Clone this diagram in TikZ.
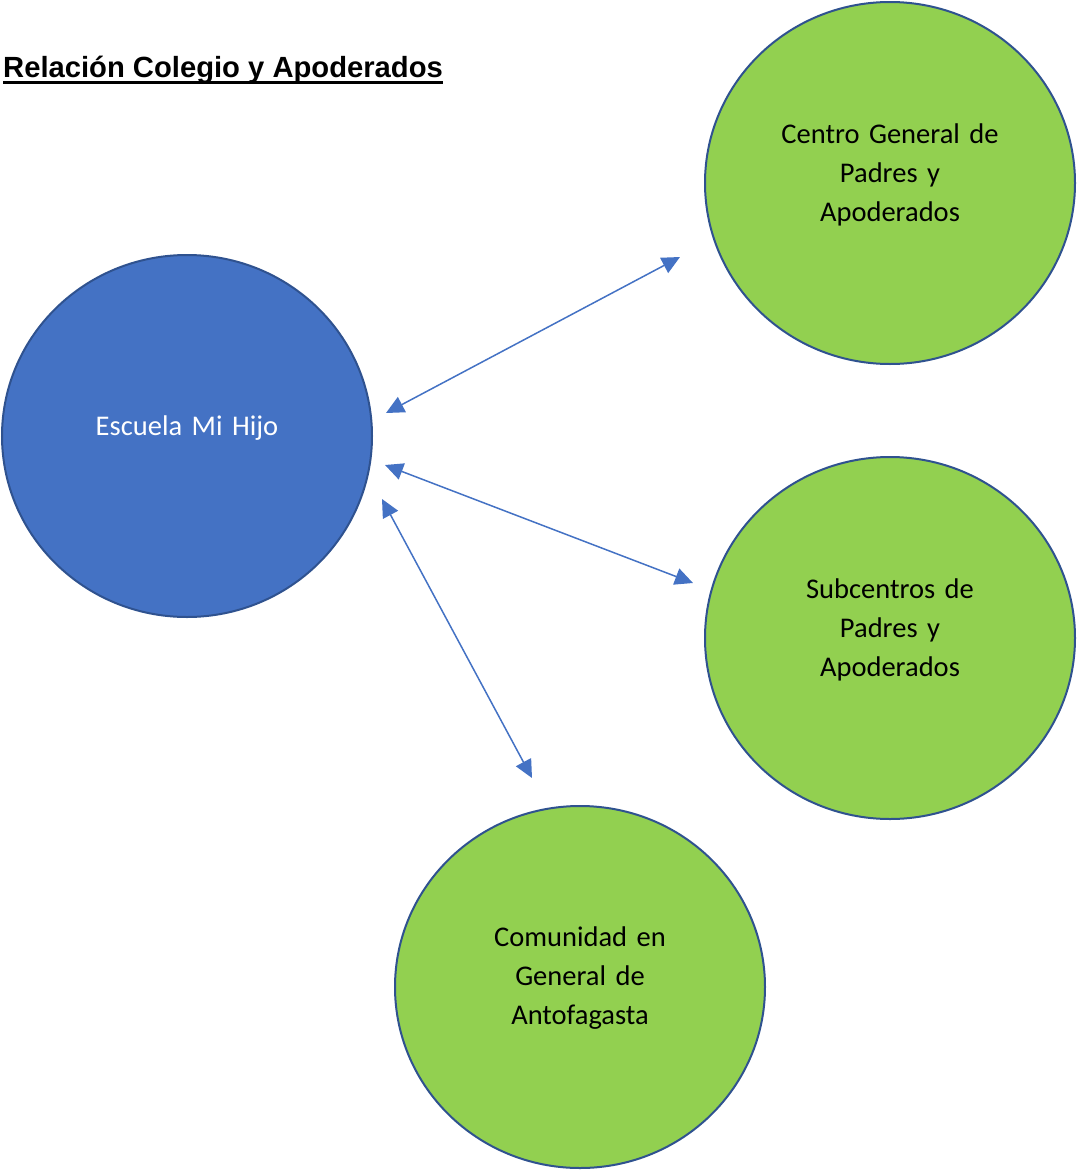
\documentclass[tikz,border=0pt]{standalone}
\usepackage{fontspec}
\setmainfont{Carlito}
\newfontfamily\arialfont{Liberation Sans}
\usetikzlibrary{shapes.geometric,arrows.meta}
\definecolor{blueFill}{HTML}{4472C4}
\definecolor{greenFill}{HTML}{92D050}
\definecolor{rimBlue}{HTML}{2F528F}
\begin{document}
\begin{tikzpicture}[x=1pt,y=-1pt,
  bubble/.style={ellipse,draw=rimBlue,line width=2pt,minimum width=370pt,minimum height=362pt,inner sep=0pt},
  bubbletext/.style={font=\fontsize{28.5}{39}\selectfont,align=center,text width=260pt,inner sep=0pt},
  link/.style={draw=blueFill,line width=1.5pt,{Triangle[length=18pt,width=17pt]}-{Triangle[length=18pt,width=17pt]},fill=blueFill}]
\useasboundingbox (0,0) rectangle (1077,1170);
\node[anchor=base west,inner sep=0pt,font=\arialfont\bfseries\fontsize{29.2}{32}\selectfont] (title) at (3,77) {Relación Colegio y Apoderados};
\draw[line width=3pt] ([yshift=-5.5pt]title.base west) -- ([yshift=-5.5pt]title.base east);
\node[bubble,fill=blueFill] (school) at (187,436) {};
\node[bubble,fill=greenFill] (centro) at (890,183) {};
\node[bubble,fill=greenFill] (sub) at (890,638) {};
\node[bubble,fill=greenFill] (comu) at (580,987) {};
\node[bubbletext,text=white] (tschool) at ([yshift=8pt]school.center) {Escuela Mi Hijo};
\node[bubbletext] (tcentro) at ([yshift=8.5pt]centro.center) {Centro General de\\Padres y\\Apoderados};
\node[bubbletext] (tsub) at ([yshift=8.5pt]sub.center) {Subcentros de\\Padres y\\Apoderados};
\node[bubbletext] (tcomu) at ([yshift=8.5pt]comu.center) {Comunidad en\\General de\\Antofagasta};
\coordinate (a1) at (386,413);
\coordinate (b1) at (680,257);
\coordinate (a2) at (385,465);
\coordinate (b2) at (693,583);
\coordinate (a3) at (382,499);
\coordinate (b3) at (532,778);
\draw[link] (a1) -- (b1);
\draw[link] (a2) -- (b2);
\draw[link] (a3) -- (b3);
\end{tikzpicture}
\end{document}
